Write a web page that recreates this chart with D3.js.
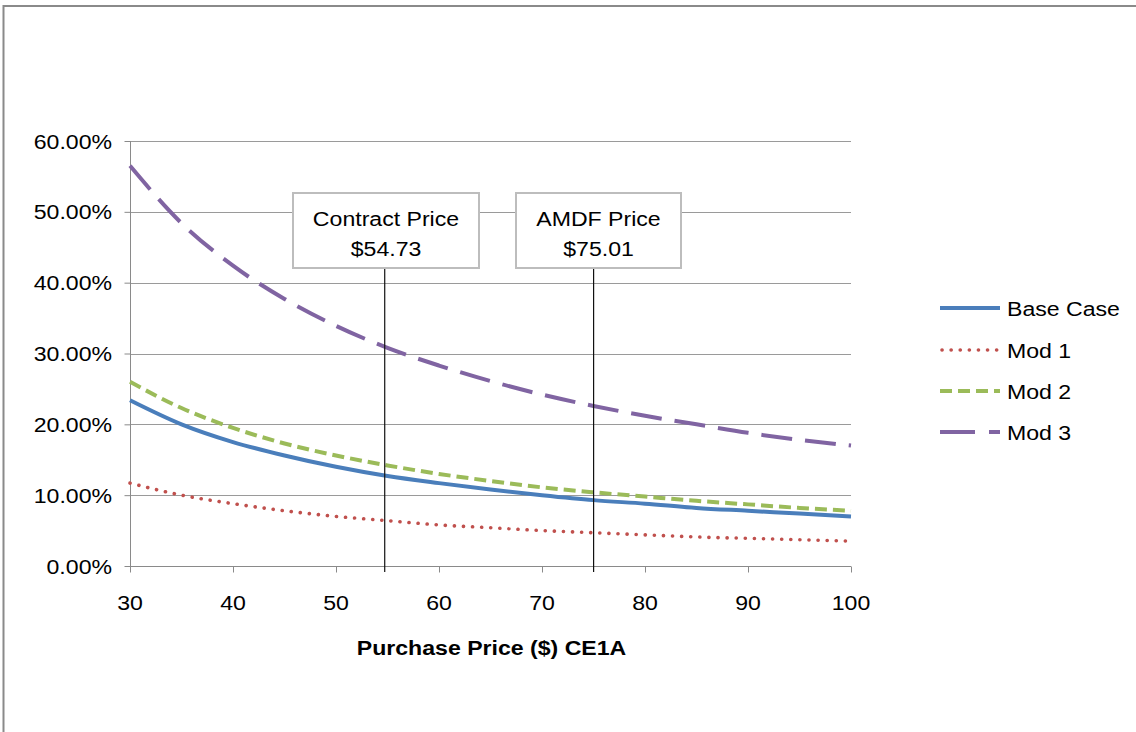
<!DOCTYPE html>
<html>
<head>
<meta charset="utf-8">
<script src="https://cdn.jsdelivr.net/npm/d3@7"></script>
<style>
  html, body { margin: 0; padding: 0; background: #fff; }
  svg { display: block; }
  text { font-family: "Liberation Sans", Arial, sans-serif; fill: #000; }
</style>
</head>
<body>
<svg id="chart" width="1136" height="732"></svg>
<script>
// Purchase price ($) on the x axis
const prices = [30, 35, 40, 45, 50, 55, 60, 65, 70, 75, 80, 85, 90, 95, 100];

// Series values, in percent
const baseCase = [23.4, 20.0, 17.5, 15.6, 14.0, 12.7, 11.7, 10.8, 10.0, 9.3, 8.8, 8.2, 7.8, 7.4, 7.0];
const mod1     = [11.7, 10.0, 8.8, 7.8, 7.0, 6.4, 5.8, 5.4, 5.0, 4.7, 4.4, 4.1, 3.9, 3.7, 3.5];
const mod2     = [26.0, 22.3, 19.5, 17.3, 15.6, 14.2, 13.0, 12.0, 11.1, 10.4, 9.8, 9.2, 8.7, 8.2, 7.8];
const mod3     = [56.5, 48.4, 42.4, 37.7, 33.9, 30.8, 28.3, 26.1, 24.2, 22.6, 21.2, 20.0, 18.8, 17.8, 17.0];

const seriesNames = ["Base Case", "Mod 1", "Mod 2", "Mod 3"];

// Tick values
const xTicks = [30, 40, 50, 60, 70, 80, 90, 100];
const yTicks = [0, 10, 20, 30, 40, 50, 60];

// Reference prices marked on the chart
const markerNames = ["Contract Price", "AMDF Price"];
const markerPrices = [54.73, 75.01];

// ---- styling ----
const styles = [
  { color: "#4a7ebb", width: 4,   dash: null,    cap: "butt"  },
  { color: "#c0504d", width: 3.6, dash: "0.1 9", cap: "round" },
  { color: "#9bbb59", width: 4,   dash: "12 6",  cap: "butt"  },
  { color: "#8064a2", width: 4,   dash: "31 13", cap: "butt"  }
];
const FS = 21;      // font size
const SX = 1.1;     // horizontal text stretch

const svg = d3.select("#chart");
const plot = { left: 130, right: 851, top: 141, bottom: 566 };

const x = d3.scaleLinear().domain([30, 100]).range([plot.left, plot.right]);
const y = d3.scaleLinear().domain([0, 60]).range([plot.bottom, plot.top]);

// stretched text helper
function label(g, tx, ty, str, anchor, weight) {
  return g.append("text")
    .attr("transform", `translate(${tx},${ty}) scale(${SX},1)`)
    .attr("text-anchor", anchor || "start")
    .attr("font-size", FS)
    .attr("font-weight", weight || "normal")
    .text(str);
}

// outer frame (left and top edges)
svg.append("path")
  .attr("d", "M3.5,732 V6 H1136")
  .attr("fill", "none")
  .attr("stroke", "#8a8a8a")
  .attr("stroke-width", 2);

// horizontal gridlines
svg.append("g")
  .selectAll("line")
  .data(yTicks.filter(d => d > 0))
  .join("line")
  .attr("x1", plot.left).attr("x2", plot.right)
  .attr("y1", d => Math.round(y(d)) + 0.5).attr("y2", d => Math.round(y(d)) + 0.5)
  .attr("stroke", "#9a9a9a").attr("stroke-width", 1);

// y axis
const yAxis = svg.append("g")
  .attr("transform", `translate(${plot.left + 0.5},0)`)
  .call(d3.axisLeft(y).tickValues(yTicks).tickSize(6).tickFormat(() => ""));
yAxis.selectAll("path, line").attr("stroke", "#8a8a8a");
yAxis.select(".domain").attr("d", `M0,${plot.top}V${plot.bottom}`);
const yLab = svg.append("g");
yTicks.forEach(t => {
  label(yLab, 112, y(t) + 7.5, d3.format(".2f")(t) + "%", "end");
});

// x axis
const xAxis = svg.append("g")
  .attr("transform", `translate(0,${Math.round(plot.bottom) + 0.5})`)
  .call(d3.axisBottom(x).tickValues(xTicks).tickSize(6).tickFormat(() => ""));
xAxis.selectAll("path, line").attr("stroke", "#8a8a8a");
xAxis.select(".domain").attr("d", `M${plot.left},0H${plot.right}`);
const xLab = svg.append("g");
xTicks.forEach(t => {
  label(xLab, x(t), 610, String(t), "middle");
});

// axis title
label(svg, (plot.left + plot.right) / 2 + 1, 655, "Purchase Price ($) CE1A", "middle", "bold");

// series lines
const allSeries = [baseCase, mod1, mod2, mod3];
const line = d3.line()
  .x((d, i) => x(prices[i]))
  .y(d => y(d))
  .curve(d3.curveMonotoneX);

const lines = svg.append("g");
allSeries.forEach((vals, k) => {
  const s = styles[k];
  lines.append("path")
    .datum(vals)
    .attr("d", line)
    .attr("fill", "none")
    .attr("stroke", s.color)
    .attr("stroke-width", s.width)
    .attr("stroke-linecap", s.cap)
    .attr("stroke-dasharray", s.dash);
});

// price markers: leader line plus callout box
const boxes = [
  { x0: 293, x1: 479 },
  { x0: 516, x1: 681 }
];
const boxTop = 193, boxBottom = 268;
const markers = svg.append("g");
markerPrices.forEach((p, i) => {
  markers.append("line")
    .attr("x1", x(p)).attr("x2", x(p))
    .attr("y1", boxBottom).attr("y2", plot.bottom + 6)
    .attr("stroke", "#111").attr("stroke-width", 1.2);
});
markerPrices.forEach((p, i) => {
  const b = boxes[i];
  markers.append("rect")
    .attr("x", b.x0).attr("y", boxTop)
    .attr("width", b.x1 - b.x0).attr("height", boxBottom - boxTop)
    .attr("fill", "#fff")
    .attr("stroke", "#bdbdbd").attr("stroke-width", 2);
  const cx = (b.x0 + b.x1) / 2;
  label(markers, cx, 226, markerNames[i], "middle");
  label(markers, cx, 256, "$" + d3.format(".2f")(p), "middle");
});

// legend
const legend = svg.append("g");
const legendY = [308, 350, 391, 432];
seriesNames.forEach((name, k) => {
  const s = styles[k];
  legend.append("line")
    .attr("x1", k === 1 ? 942 : 940).attr("x2", 1000)
    .attr("y1", legendY[k]).attr("y2", legendY[k])
    .attr("stroke", s.color)
    .attr("stroke-width", s.width)
    .attr("stroke-linecap", s.cap)
    .attr("stroke-dasharray", k === 3 ? "35 14" : s.dash);
  label(legend, 1007, legendY[k] + 7.5, name, "start");
});
</script>
</body>
</html>
